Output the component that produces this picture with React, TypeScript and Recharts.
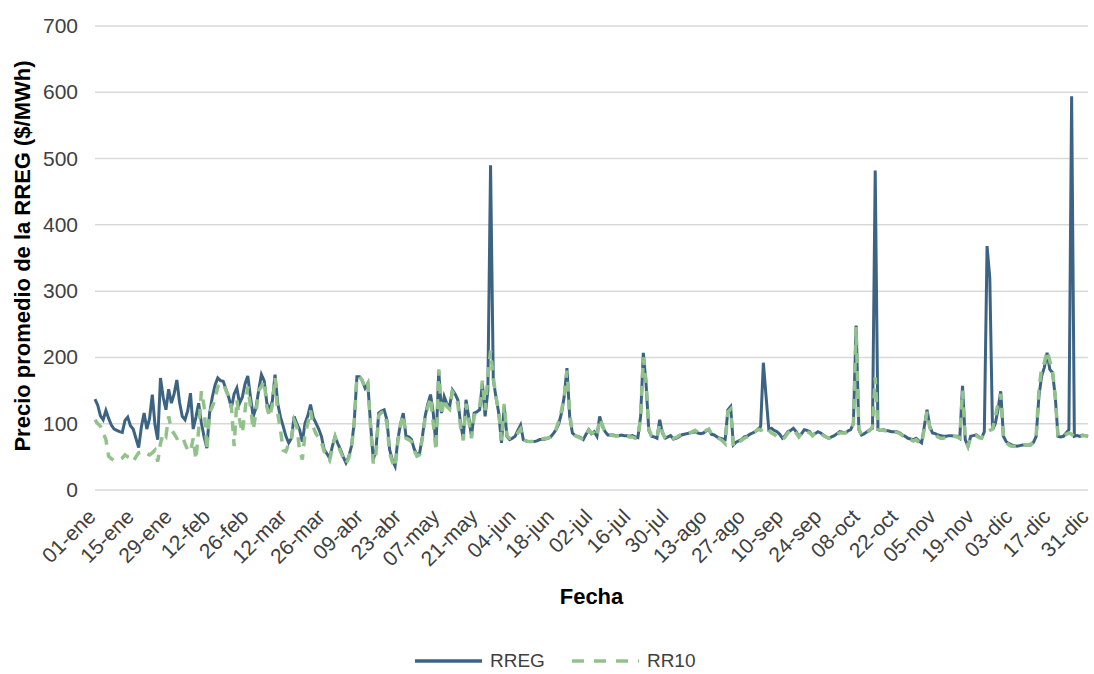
import { CartesianGrid, Line, LineChart, XAxis, YAxis } from "recharts";

const FONT = '"Liberation Sans", Arial, sans-serif';
const NARROW = '"Liberation Sans Narrow", "Arial Narrow", "Liberation Sans", Arial, sans-serif';
const BLUE = "#3d6383";
const GREEN = "#92c28c";
const GRID = "#d9d9d9";
const TEXT = "#404040";

const MONTHS = ["ene", "feb", "mar", "abr", "may", "jun", "jul", "ago", "sep", "oct", "nov", "dic"];
const MONTH_DAYS = [31, 28, 31, 30, 31, 30, 31, 31, 30, 31, 30, 31];
const DAYS = MONTHS.flatMap((m, i) =>
  Array.from({ length: MONTH_DAYS[i] }, (_, d) => `${String(d + 1).padStart(2, "0")}-${m}`)
);

const Y_TICKS = [0, 100, 200, 300, 400, 500, 600, 700];

// precio promedio diario RREG ($/MWh)
const RREG = [
  137, 128, 112, 106, 120, 108, 98, 92, 90, 88, 87, 105, 110, 97,
  92, 78, 64, 95, 116, 92, 108, 144, 98, 76, 169, 140, 121, 152,
  131, 145, 166, 132, 111, 106, 120, 146, 92, 110, 131, 101, 80, 63,
  116, 140, 158, 169, 165, 164, 152, 140, 124, 145, 154, 131, 140, 160,
  172, 140, 111, 124, 150, 174, 165, 131, 121, 134, 174, 130, 110, 96,
  81, 71, 78, 111, 100, 91, 73, 101, 112, 129, 109, 101, 92, 81,
  61, 55, 48, 66, 81, 70, 61, 50, 41, 50, 66, 101, 171, 171,
  165, 154, 161, 100, 46, 61, 116, 119, 121, 106, 61, 45, 36, 76,
  100, 116, 81, 80, 76, 62, 53, 56, 80, 111, 130, 144, 116, 66,
  180, 116, 141, 130, 126, 151, 145, 136, 100, 78, 136, 110, 81, 116,
  118, 121, 161, 111, 150, 490, 166, 140, 116, 71, 126, 81, 76, 78,
  81, 90, 98, 76, 74, 73, 73, 73, 74, 76, 76, 77, 78, 80,
  85, 91, 100, 116, 141, 184, 111, 86, 82, 81, 79, 76, 84, 91,
  85, 88, 81, 111, 96, 88, 83, 83, 83, 82, 82, 83, 82, 82,
  81, 82, 80, 79, 111, 207, 160, 90, 81, 80, 78, 106, 86, 78,
  80, 82, 77, 78, 80, 83, 84, 85, 86, 87, 88, 86, 85, 86,
  89, 91, 84, 83, 80, 78, 77, 76, 121, 126, 68, 72, 74, 76,
  80, 81, 84, 86, 88, 91, 96, 192, 141, 91, 93, 90, 88, 84,
  78, 82, 88, 90, 93, 88, 81, 85, 91, 90, 88, 82, 85, 88,
  86, 83, 80, 78, 80, 82, 85, 88, 87, 86, 89, 91, 100, 248,
  91, 83, 85, 88, 91, 93, 482, 91, 90, 91, 90, 89, 88, 88,
  88, 86, 83, 81, 78, 77, 76, 78, 74, 71, 96, 121, 96, 86,
  85, 83, 82, 81, 81, 82, 82, 81, 81, 78, 157, 76, 66, 81,
  82, 83, 80, 78, 88, 368, 320, 91, 100, 121, 149, 81, 73, 70,
  68, 67, 66, 67, 68, 68, 68, 68, 72, 81, 141, 172, 185, 207,
  182, 177, 141, 81, 80, 81, 86, 91, 594, 81, 82, 81, 83, 82, 81,
];

// precio promedio diario RR10 ($/MWh)
const RR10 = [
  106, 100, 96, 86, 76, 51, 47, 45, 46, 46, 48, 53, 50, 48,
  43, 50, 56, 57, 58, 55, 53, 56, 60, 43, 70, 86, 81, 111,
  91, 85, 78, 80, 81, 70, 60, 58, 78, 46, 91, 149, 126, 60,
  116, 126, 136, 156, 160, 161, 150, 141, 126, 66, 136, 106, 86, 120,
  156, 126, 91, 116, 150, 156, 165, 125, 110, 128, 170, 115, 90, 60,
  58, 70, 76, 105, 95, 60, 46, 85, 100, 120, 95, 85, 78, 72,
  58, 52, 45, 63, 80, 68, 58, 48, 40, 48, 63, 100, 171, 171,
  165, 152, 160, 96, 40, 55, 112, 117, 118, 100, 56, 42, 34, 72,
  98, 114, 78, 76, 73, 60, 51, 53, 78, 108, 125, 140, 100, 60,
  182, 112, 138, 126, 122, 148, 142, 130, 95, 75, 130, 105, 78, 112,
  118, 125, 165, 120, 170, 210, 170, 140, 120, 75, 130, 82, 78, 78,
  80, 86, 92, 76, 74, 73, 73, 73, 74, 76, 77, 78, 78, 80,
  84, 92, 104, 120, 140, 180, 115, 88, 82, 80, 78, 76, 82, 90,
  86, 86, 80, 108, 98, 86, 82, 83, 82, 81, 82, 82, 82, 81,
  80, 80, 78, 78, 110, 200, 165, 92, 82, 80, 78, 100, 88, 78,
  78, 81, 78, 79, 82, 84, 84, 85, 86, 88, 90, 87, 85, 86,
  90, 92, 85, 82, 79, 77, 74, 70, 118, 122, 66, 70, 72, 75,
  78, 80, 82, 85, 88, 92, 90, 92, 95, 90, 86, 84, 80, 78,
  76, 80, 86, 90, 92, 86, 80, 86, 90, 88, 86, 82, 86, 88,
  85, 82, 80, 78, 80, 82, 84, 86, 86, 86, 88, 90, 100, 246,
  92, 82, 84, 87, 90, 95, 170, 92, 90, 90, 89, 88, 87, 87,
  87, 85, 82, 80, 77, 76, 74, 76, 72, 70, 92, 118, 94, 86,
  84, 80, 78, 78, 80, 81, 82, 81, 80, 78, 150, 76, 66, 80,
  82, 82, 79, 78, 85, 88, 90, 92, 110, 130, 145, 80, 72, 68,
  66, 66, 65, 66, 67, 68, 68, 69, 72, 82, 150, 185, 192, 210,
  195, 180, 140, 82, 80, 80, 84, 86, 84, 80, 81, 80, 82, 82, 80,
];

const data = DAYS.map((fecha, i) => ({ fecha, RREG: RREG[i], RR10: RR10[i] }));

function XTick({ x, y, payload }: any) {
  const tx = x + 2;
  const ty = y + 20;
  return (
    <text
      x={tx}
      y={ty}
      transform={`rotate(-45 ${tx} ${ty})`}
      textAnchor="end"
      fontSize={21}
      fontFamily={NARROW}
      fill={TEXT}
    >
      {payload.value}
    </text>
  );
}

function YTick({ x, y, payload }: any) {
  return (
    <text x={x} y={y} dy={7} textAnchor="end" fontSize={21} fontFamily={NARROW} fill={TEXT}>
      {payload.value}
    </text>
  );
}

export default function App() {
  return (
    <div style={{ position: "absolute", left: 0, top: 0, width: 1094, height: 674, background: "#fff" }}>
      <LineChart width={1094} height={674} data={data} margin={{ top: 26, right: 6, bottom: 94, left: 0 }}>
        <CartesianGrid stroke={GRID} strokeWidth={1.5} vertical={false} />
        <XAxis
          dataKey="fecha"
          interval={13}
          tick={<XTick />}
          tickLine={false}
          axisLine={false}
          height={90}
          label={{
            content: ({ viewBox }: any) => (
              <text
                x={viewBox.x + viewBox.width / 2}
                y={604}
                textAnchor="middle"
                fontSize={22}
                fontWeight="bold"
                fontFamily={FONT}
                fill="#000"
              >
                Fecha
              </text>
            ),
          }}
        />
        <YAxis
          domain={[0, 700]}
          ticks={Y_TICKS}
          width={95}
          tick={<YTick />}
          tickLine={false}
          axisLine={false}
          tickSize={0}
          tickMargin={17}
          label={{
            content: () => (
              <text
                x={30}
                y={256}
                transform="rotate(-90 30 256)"
                textAnchor="middle"
                fontSize={22}
                fontWeight="bold"
                fontFamily={FONT}
                fill="#000"
              >
                Precio promedio de la RREG ($/MWh)
              </text>
            ),
          }}
        />
        <Line
          type="linear"
          dataKey="RREG"
          stroke={BLUE}
          strokeWidth={3}
          dot={false}
          isAnimationActive={false}
        />
        <Line
          type="linear"
          dataKey="RR10"
          stroke={GREEN}
          strokeWidth={3.5}
          strokeDasharray="10 8"
          dot={false}
          isAnimationActive={false}
        />
      </LineChart>
      <div
        style={{
          position: "absolute",
          top: 650,
          left: 415,
          display: "flex",
          alignItems: "center",
          fontFamily: FONT,
          fontSize: 19,
          color: TEXT,
        }}
      >
        <svg width={67} height={8}>
          <line x1={0} y1={4} x2={67} y2={4} stroke={BLUE} strokeWidth={3.5} />
        </svg>
        <span style={{ marginLeft: 8, marginRight: 27 }}>RREG</span>
        <svg width={67} height={8}>
          <line x1={0} y1={4} x2={67} y2={4} stroke={GREEN} strokeWidth={3.5} strokeDasharray="12 10" />
        </svg>
        <span style={{ marginLeft: 8 }}>RR10</span>
      </div>
    </div>
  );
}
